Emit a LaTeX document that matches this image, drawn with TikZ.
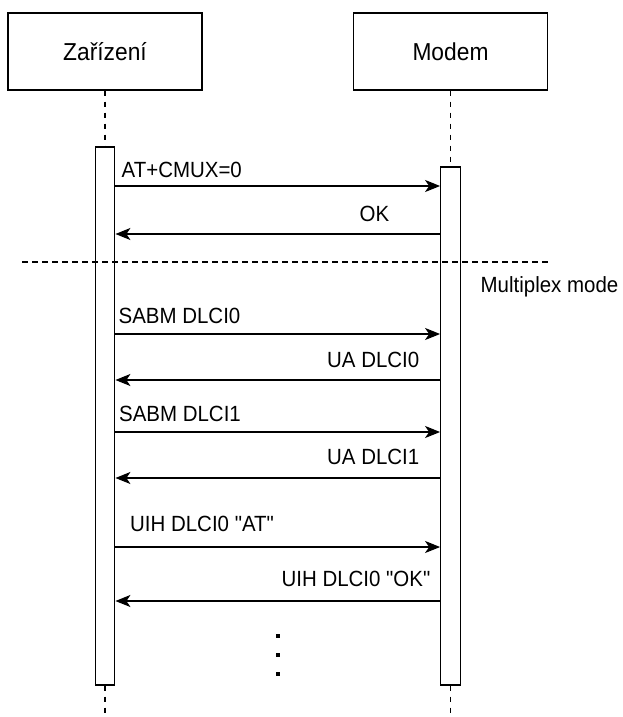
\documentclass[tikz,border=0pt]{standalone}
\usepackage{fontspec}
\setmainfont{Liberation Sans}[FakeStretch=0.93,Ligatures=TeXOff]
\usetikzlibrary{arrows.meta}
\begin{document}
\begin{tikzpicture}[x=1pt,y=-1pt,
  actor/.style={draw,line width=1.3pt,minimum width=194pt,minimum height=77pt,inner sep=0pt,font=\fontsize{24.5}{28}\selectfont},
  bar/.style={draw,line width=1.3pt,fill=white,minimum width=19.5pt,inner sep=0pt},
  life/.style={line width=1.3pt,dash pattern=on 5pt off 6pt},
  sep/.style={line width=1.3pt,dash pattern=on 6pt off 4pt},
  msg/.style={line width=1.4pt,-{Stealth[length=15pt,width=12pt,inset=4pt]}},
  lbl/.style={inner sep=0pt,font=\fontsize{22}{26}\selectfont},
  dotm/.style={fill=black,minimum size=4pt,inner sep=0pt}]
\useasboundingbox (0,0) rectangle (622,717);
% actors
\node[actor] (dz) at (105,51.5) {Zařízení};
\node[actor] (dm) at (450.5,51.5) {Modem};
% end points of lifelines
\coordinate (lend) at (105,717);
\coordinate (rend) at (450.5,717);
% activation bars
\node[bar,minimum height=538pt] (lb) at (105,416) {};
\node[bar,minimum height=518pt] (rb) at (450.5,426) {};
% lifelines
\draw[life] (dz.south) -- (lb.north);
\draw[life] (dm.south) -- (rb.north);
\draw[life] (lb.south) -- (lend);
\draw[life] (rb.south) -- (rend);
% rows
\coordinate (r1) at (0,186);
\coordinate (r2) at (0,234);
\coordinate (r3) at (0,334);
\coordinate (r4) at (0,380);
\coordinate (r5) at (0,432);
\coordinate (r6) at (0,478);
\coordinate (r7) at (0,547);
\coordinate (r8) at (0,601);
% messages
\draw[msg] (lb.east |- r1) -- (rb.west |- r1);
\draw[msg] (rb.west |- r2) -- (lb.east |- r2);
\draw[msg] (lb.east |- r3) -- (rb.west |- r3);
\draw[msg] (rb.west |- r4) -- (lb.east |- r4);
\draw[msg] (lb.east |- r5) -- (rb.west |- r5);
\draw[msg] (rb.west |- r6) -- (lb.east |- r6);
\draw[msg] (lb.east |- r7) -- (rb.west |- r7);
\draw[msg] (rb.west |- r8) -- (lb.east |- r8);
% labels
\node[lbl,anchor=base west] (t1) at (121.5,177) {AT+CMUX=0};
\node[lbl,anchor=base east] (t2) at (389.5,221) {OK};
\node[lbl,anchor=base west] (t3) at (118.5,323) {SABM DLCI0};
\node[lbl,anchor=base east] (t4) at (419.5,367) {UA DLCI0};
\node[lbl,anchor=base west] (t5) at (119,421) {SABM DLCI1};
\node[lbl,anchor=base east] (t6) at (419.5,464) {UA DLCI1};
\node[lbl,anchor=base west] (t7) at (130,531) {UIH DLCI0 "AT"};
\node[lbl,anchor=base east] (t8) at (430.5,586) {UIH DLCI0 "OK"};
% separator
\coordinate (sepl) at (22,262);
\coordinate (sepr) at (548,262);
\draw[sep] (sepl) -- (sepr);
\node[lbl,anchor=base west] (mm) at (480.5,292) {Multiplex mode};
% dots
\node[dotm] (d1) at (278,636) {};
\node[dotm] (d2) at (278,655) {};
\node[dotm] (d3) at (278,674) {};
\end{tikzpicture}
\end{document}
